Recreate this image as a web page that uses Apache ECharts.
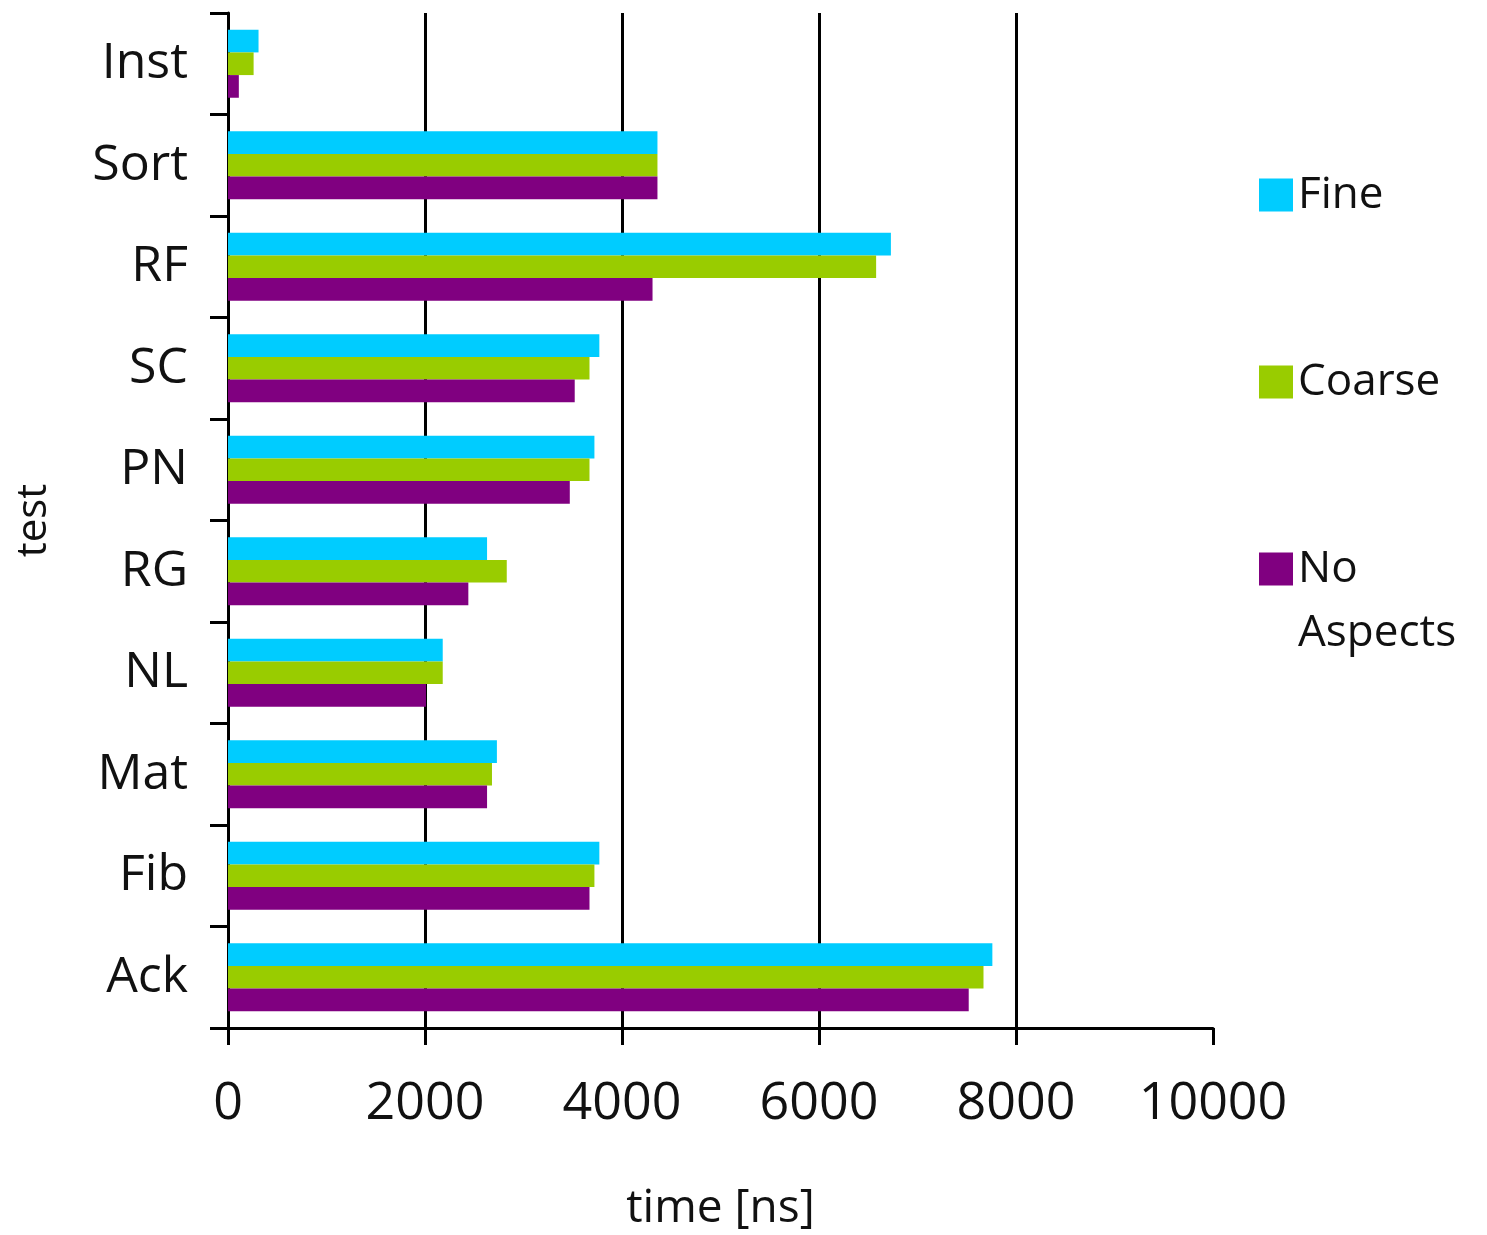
<!DOCTYPE html>
<html>
<head>
<meta charset="utf-8">
<title>time [ns]</title>
<script src="https://cdn.jsdelivr.net/npm/echarts@6/dist/echarts.min.js"></script>
<style>
  html, body { margin: 0; padding: 0; background: #fff; }
  #chart { width: 1487px; height: 1235px; }
</style>
</head>
<body>
<div id="chart"></div>
<script>
// Test names, listed top to bottom
const categories = ['Inst', 'Sort', 'RF', 'SC', 'PN', 'RG', 'NL', 'Mat', 'Fib', 'Ack'];

// Run time per test in nanoseconds
const fine      = [310, 4360, 6730, 3770, 3720, 2630, 2180, 2730, 3770, 7760];
const coarse    = [260, 4360, 6580, 3670, 3670, 2830, 2180, 2680, 3720, 7670];
const noAspects = [110, 4360, 4310, 3520, 3470, 2440, 2010, 2630, 3670, 7520];

const xTicks = [0, 2000, 4000, 6000, 8000, 10000];

const FONT = '"Open Sans", "Noto Sans", sans-serif';
const INK = '#111';

const chart = echarts.init(document.getElementById('chart'));

// One legend block per series so each entry can sit at its own height.
// A two-line label gets a blank first line so the swatch lines up with "No".
function legendBlock(name, top, label) {
  return {
    data: [name],
    orient: 'vertical',
    left: 1254,
    top: top,
    icon: 'rect',
    itemWidth: 34,
    itemHeight: 33,
    selectedMode: false,
    formatter: label || undefined,
    textStyle: Object.assign({
      fontFamily: FONT,
      fontSize: 44,
      color: INK
    }, label ? { lineHeight: 64 } : {})
  };
}

chart.setOption({
  animation: false,
  backgroundColor: '#fff',
  grid: {
    left: 228, right: 274, top: 13, bottom: 207,
    containLabel: false,
    outerBoundsMode: 'none'
  },
  legend: [
    legendBlock('Fine', 168),
    legendBlock('Coarse', 355),
    legendBlock('No Aspects', 468, ' \nNo\nAspects')
  ],
  xAxis: {
    type: 'value',
    min: xTicks[0],
    max: xTicks[xTicks.length - 1],
    interval: 2000,
    name: 'time [ns]',
    nameLocation: 'middle',
    nameGap: 158,
    nameTextStyle: { fontFamily: FONT, fontSize: 46, color: INK },
    axisLine: { show: true, lineStyle: { color: '#000', width: 3 } },
    axisTick: { show: true, length: 17, lineStyle: { color: '#000', width: 3 } },
    axisLabel: {
      fontFamily: FONT, fontSize: 52, color: INK, margin: 50,
      formatter: (v) => String(v)
    },
    splitLine: {
      show: true,
      showMinLine: false,
      showMaxLine: false,
      lineStyle: { color: '#000', width: 3 }
    }
  },
  yAxis: {
    type: 'category',
    data: categories,
    inverse: true,
    name: 'test',
    nameLocation: 'middle',
    nameGap: 173,
    nameRotate: 90,
    nameTextStyle: { fontFamily: FONT, fontSize: 42, color: INK },
    axisLine: { show: true, lineStyle: { color: '#000', width: 3 } },
    axisTick: { show: true, length: 18, lineStyle: { color: '#000', width: 3 } },
    axisLabel: { fontFamily: FONT, fontSize: 50, color: INK, margin: 40 },
    splitLine: { show: false }
  },
  series: [
    { name: 'Fine', type: 'bar', data: fine, itemStyle: { color: '#00CCFF' }, barGap: '0%', barCategoryGap: '33%' },
    { name: 'Coarse', type: 'bar', data: coarse, itemStyle: { color: '#99CC00' }, barGap: '0%', barCategoryGap: '33%' },
    { name: 'No Aspects', type: 'bar', data: noAspects, itemStyle: { color: '#800080' }, barGap: '0%', barCategoryGap: '33%' }
  ]
});
</script>
</body>
</html>
